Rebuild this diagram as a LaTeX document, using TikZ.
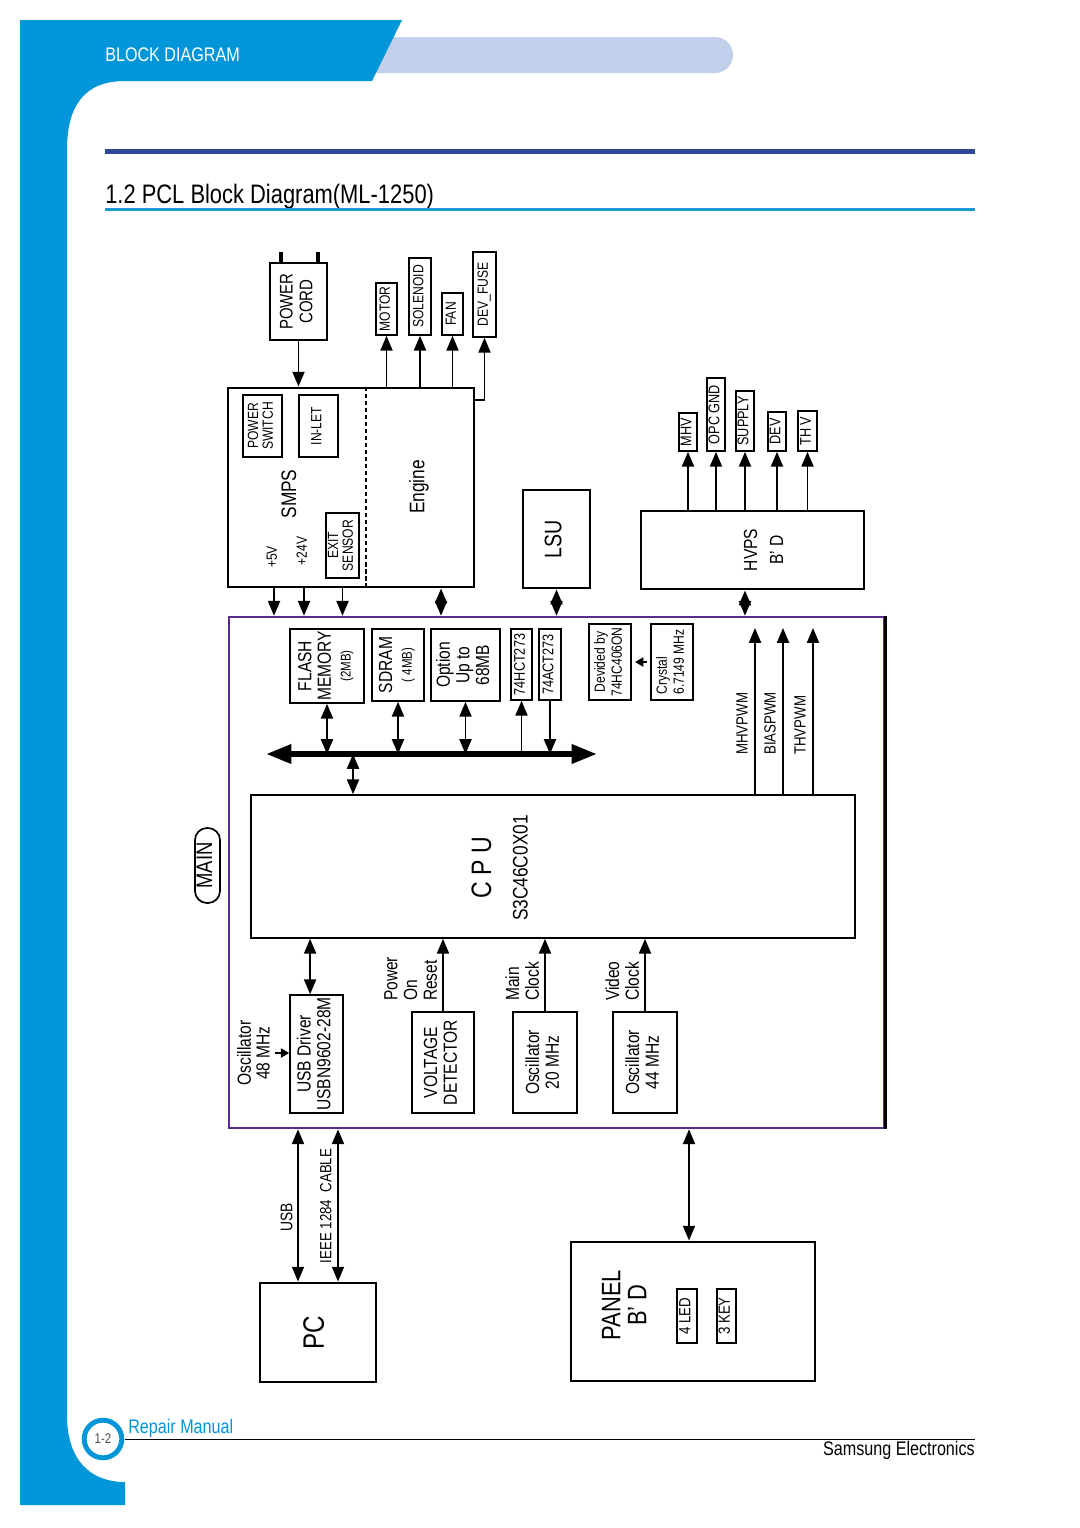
\documentclass[tikz,border=0pt]{standalone}
\usepackage{fontspec}
\setmainfont{Liberation Sans}[FakeStretch=0.82]
\usepackage{graphicx}
\usetikzlibrary{arrows.meta}

\definecolor{hdrblue}{RGB}{0,150,217}
\definecolor{barblue}{RGB}{195,208,235}
\definecolor{ruleblue}{RGB}{46,70,150}
\definecolor{lineblue}{RGB}{28,154,214}
\definecolor{mainpurple}{RGB}{88,44,140}

\newcommand\fsz[2]{\fontsize{#1}{#2}\selectfont}
\newcommand\vlabel[2][c]{\rotatebox{90}{\begin{tabular}{@{}#1@{}}#2\end{tabular}}}

\tikzset{
  blk/.style 2 args={minimum width=#1*0.025cm, minimum height=#2*0.025cm},
  thickbox/.style={draw, line width=2.1pt, inner sep=0pt},
  sbox/.style={draw, line width=1.1pt, inner sep=0pt},
  txt/.style={inner sep=0pt},
  arr/.style={-{Triangle[length=10.5pt,width=8.5pt]}, line width=1.4pt},
  darr/.style={{Triangle[length=10.5pt,width=8.5pt]}-{Triangle[length=10.5pt,width=8.5pt]}, line width=1.4pt},
  sarr/.style={-{Triangle[length=6pt,width=6.5pt]}, line width=1.4pt},
  bus/.style={{Triangle[length=18pt,width=13pt]}-{Triangle[length=18pt,width=13pt]}, line width=4pt}
}

\begin{document}
\begin{tikzpicture}[x=0.025cm, y=-0.025cm]
        \useasboundingbox (0,0) rectangle (1080,1528);
        \fill[white] (0,0) rectangle (1080,1528);

        % Page frame
        \fill[barblue, rounded corners=0.45cm] (360,37) rectangle (733,73);
        \fill[hdrblue] (20,20) -- (402,20) -- (372,81) -- (125,81)
            .. controls (85,81) and (67,105) .. (67,150) -- (67,1415)
            .. controls (67,1460) and (90,1482) .. (125,1482) -- (125,1505) -- (20,1505) -- cycle;
        \node[txt, anchor=west, text=white, font={\fsz{14}{16}}] (hdr) at (105,55) {BLOCK DIAGRAM};
        \fill[ruleblue] (105,149) rectangle (975,154);
        \node[txt, anchor=base west, font={\fsz{19}{22}}] (title) at (105,203) {1.2 PCL Block Diagram(ML-1250)};
        \fill[lineblue] (105,208) rectangle (975,211);

        % Footer
        \draw[line width=0.7pt] (125,1439) -- (975,1439);
        \draw[hdrblue, line width=3.5pt, fill=white] (103,1439) circle [radius=0.47cm];
        \node[txt, text=black!70, font={\fsz{10}{12}}] (pageno) at (103,1439) {1-2};
        \node[txt, anchor=base west, text=hdrblue, font={\fsz{14}{16}}] (repair) at (128,1433) {Repair Manual};
        \node[txt, anchor=base east, font={\fsz{14}{16}}] (samsung) at (975,1455) {Samsung Electronics};

        % Power cord and SMPS / Engine
        \node[thickbox, blk={57}{77}, font={\fsz{13}{14}}] (cord) at (298.5,301.5) {\vlabel{POWER\\CORD}};
        \draw[line width=3pt] ([xshift=-0.44cm]cord.north) -- ++(0,-10);
        \draw[line width=3pt] ([xshift=0.49cm]cord.north) -- ++(0,-10);
        \node[thickbox, blk={246}{199}] (smps) at (351,487.5) {};
        \draw[dashed, dash pattern=on 3pt off 2pt, line width=1pt] (smps.north -| 366,0) -- (smps.south -| 366,0);
        \node[sbox, blk={39}{62}, font={\fsz{10.5}{10.5}}] (pswitch) at (262.5,426) {\vlabel{POWER\\SWITCH}};
        \node[sbox, blk={39}{62}, font={\fsz{10.5}{10.5}}] (inlet) at (318.5,426) {\vlabel{IN-LET}};
        \node[sbox, blk={33}{65}, font={\fsz{10.5}{10.5}}] (exits) at (342.5,545.5) {\vlabel{EXIT\\SENSOR}};
        \node[txt, font={\fsz{15}{15}}] (smpstxt) at (292,494) {\vlabel{SMPS}};
        \node[txt, font={\fsz{10.5}{10.5}}] (v5) at (274,557) {\vlabel{+5V}};
        \node[txt, font={\fsz{10.5}{10.5}}] (v24) at (304,551) {\vlabel{+24V}};
        \node[txt, font={\fsz{15}{15}}] (engtxt) at (420,487) {\vlabel{Engine}};
        \draw[arr] (cord.south) -- (cord.south |- smps.north);

        % Engine outputs
        \node[sbox, blk={21}{52}, font={\fsz{10.5}{12}}] (motor) at (386.5,309) {\vlabel{MOTOR}};
        \node[sbox, blk={22}{77}, font={\fsz{10.5}{12}}] (solenoid) at (420,296.5) {\vlabel{SOLENOID}};
        \node[sbox, blk={21}{42}, font={\fsz{10.5}{12}}] (fan) at (452.5,314) {\vlabel{FAN}};
        \node[sbox, blk={23}{85}, font={\fsz{10.5}{12}}] (fuse) at (484.5,294.5) {\vlabel{DEV\_FUSE}};
        \draw[arr] (motor.south |- smps.north) -- (motor.south);
        \draw[arr] (solenoid.south |- smps.north) -- (solenoid.south);
        \draw[arr] (fan.south |- smps.north) -- (fan.south);
        \draw[arr] ([yshift=-0.33cm]smps.north east) -| (fuse.south);

        % LSU and HVPS
        \node[thickbox, blk={67}{98}, font={\fsz{17}{17}}] (lsu) at (556.5,539) {\vlabel{LSU}};
        \node[thickbox, blk={223}{78}] (hvps) at (752.5,550) {};
        \node[txt, font={\fsz{13.5}{18.5}}] (hvpstxt) at (765,550) {\vlabel{HVPS\\B' D}};
        \node[sbox, blk={18}{38}, font={\fsz{11}{12}}] (mhv) at (688,432) {\vlabel{MHV}};
        \node[sbox, blk={18}{73}, font={\fsz{11}{12}}] (opcgnd) at (716,414.5) {\vlabel{OPC GND}};
        \node[sbox, blk={18}{60}, font={\fsz{11}{12}}] (supply) at (745,421) {\vlabel{SUPPLY}};
        \node[sbox, blk={18}{39}, font={\fsz{11}{12}}] (dev) at (777,431.5) {\vlabel{DEV}};
        \node[sbox, blk={19}{40}, font={\fsz{11}{12}}] (thv) at (807.5,431) {\vlabel{TH V}};
        \foreach \b in {mhv,opcgnd,supply,dev,thv}
            \draw[arr] (\b.south |- hvps.north) -- (\b.south);

        % Main board
        \node[draw=mainpurple, line width=1.8pt, blk={655}{511}] (main) at (556.5,872.5) {};
        \draw[line width=1.8pt] (main.north east) -- (main.south east);
        \node[draw, rounded corners=0.3cm, line width=1.2pt, inner sep=0pt, blk={25}{75}, font={\fsz{16}{16}}] (mainlbl) at (207.5,865.5) {\vlabel{MAIN}};

        % Links into the main board
        \draw[arr] (v5 |- smps.south) -- (v5 |- main.north);
        \draw[arr] (v24 |- smps.south) -- (v24 |- main.north);
        \draw[arr] (exits |- smps.south) -- (exits |- main.north);
        \coordinate (engio) at ([xshift=2.25cm]smps.south);
        \draw[darr] (engio) -- (engio |- main.north);
        \draw[darr] (lsu.south) -- (lsu.south |- main.north);
        \draw[darr] (supply |- hvps.south) -- (supply |- main.north);

        % Memory and latches on the bus
        \node[sbox, blk={74}{74}, font={\fsz{13.5}{14}}] (flash) at (327,666) {\vlabel{FLASH\\MEMORY\\{\fsz{10}{10}(2MB)}}};
        \node[sbox, blk={52}{72}, font={\fsz{13.5}{14}}] (sdram) at (398,665) {\vlabel{SDRAM\\{\fsz{10}{10}( 4MB)}}};
        \node[sbox, blk={69}{72}, font={\fsz{13.5}{14}}] (option) at (465.5,665) {\vlabel{Option\\Up to\\68MB}};
        \node[sbox, blk={21}{71}, font={\fsz{11}{12}}] (hct) at (521.5,664.5) {\vlabel{74HCT273}};
        \node[sbox, blk={22}{71}, font={\fsz{11}{12}}] (act) at (550,664.5) {\vlabel{74ACT273}};
        \node[sbox, blk={42}{76}, font={\fsz{10.5}{12}}] (divd) at (610,662) {\vlabel{Devided by\\74HC406ON}};
        \node[sbox, blk={42}{76}, font={\fsz{10.5}{12}}] (crystal) at (672,662) {\vlabel[l]{Crystal\\6.7149 MHz}};
        \draw[sarr, shorten <=0.08cm, shorten >=0.08cm] (crystal) -- (divd);

        \coordinate (busL) at (266,754);
        \coordinate (busR) at (597,754);
        \coordinate (busC) at (353,754);
        \draw[bus] (busL) -- (busR);
        \draw[darr] (flash.south) -- (flash.south |- busL);
        \draw[darr] (sdram.south) -- (sdram.south |- busL);
        \draw[darr] (option.south) -- (option.south |- busL);
        \draw[arr] (hct.south |- busL) -- (hct.south);
        \draw[arr] (act.south) -- (act.south |- busL);

        % CPU
        \node[sbox, blk={604}{143}] (cpu) at (553,866.5) {};
        \draw[darr] (busC) -- (busC |- cpu.north);
        \node[txt, font={\fsz{20}{26}}] (cputxt) at (502,868) {\vlabel{C P U\\{\fsz{15}{15}S3C46C0X01}}};
        \foreach \x/\s in {755/MHVPWM,783/BIASPWM,813/THVPWM}{
            \coordinate (pwm\x) at (\x,628);
            \draw[arr] (pwm\x |- cpu.north) -- (pwm\x);
            \node[txt, anchor=south east, font={\fsz{11.5}{12}}] (lbl\x) at (\x-2,755) {\vlabel{\s}};
        }

        % Blocks under the CPU
        \node[sbox, blk={53}{118}, font={\fsz{13.5}{14}}] (usbdrv) at (316.5,1054) {\vlabel{USB Driver\\USBN9602-28M}};
        \node[sbox, blk={62}{101}, font={\fsz{13.5}{14}}] (voltdet) at (443,1062.5) {\vlabel{VOLTAGE\\DETECTOR}};
        \node[sbox, blk={64}{101}, font={\fsz{13.5}{14}}] (osc20) at (545,1062.5) {\vlabel{Oscillator\\20 MHz}};
        \node[sbox, blk={64}{101}, font={\fsz{13.5}{14}}] (osc44) at (645,1062.5) {\vlabel{Oscillator\\44 MHz}};
        \node[txt, font={\fsz{13.5}{13}}] (osc48) at (256,1053) {\vlabel{Oscillator\\48 MHz}};
        \coordinate (usbio) at ([xshift=-0.16cm]usbdrv.north);
        \draw[darr] (usbio |- cpu.south) -- (usbio);
        \draw[sarr] (osc48.east) -- (osc48.east -| usbdrv.west);
        \draw[arr] (voltdet.north) -- (voltdet.north |- cpu.south);
        \draw[arr] (osc20.north) -- (osc20.north |- cpu.south);
        \draw[arr] (osc44.north) -- (osc44.north |- cpu.south);
        \node[txt, anchor=south east, font={\fsz{13.5}{14}}] (lblpor) at ([yshift=0.25cm]voltdet.north) {\vlabel[l]{Power\\On\\Reset}};
        \node[txt, anchor=south east, font={\fsz{13.5}{14}}] (lblmclk) at ([yshift=0.25cm]osc20.north) {\vlabel[l]{Main\\Clock}};
        \node[txt, anchor=south east, font={\fsz{13.5}{14}}] (lblvclk) at ([yshift=0.25cm]osc44.north) {\vlabel[l]{Video\\Clock}};

        % PC and panel
        \node[thickbox, blk={116}{99}, font={\fsz{21}{21}}] (pc) at (318,1332.5) {\vlabel{PC}};
        \coordinate (usbport) at ([xshift=-0.5cm]pc.north);
        \coordinate (ieeeport) at ([xshift=0.5cm]pc.north);
        \draw[darr] (usbport |- main.south) -- (usbport);
        \draw[darr] (ieeeport |- main.south) -- (ieeeport);
        \node[txt, font={\fsz{12}{12}}] (lblusb) at (289,1217) {\vlabel{USB}};
        \node[txt, font={\fsz{11.5}{12}}] (lblieee) at (328,1206) {\vlabel{IEEE 1284~~CABLE}};

        \node[thickbox, blk={244}{139}] (panel) at (693,1311.5) {};
        \node[txt, font={\fsz{19}{18}}] (paneltxt) at (628,1305) {\vlabel{PANEL\\B' D}};
        \node[sbox, blk={20}{54}, font={\fsz{11.5}{12}}] (led) at (687,1316) {\vlabel{4 LED}};
        \node[sbox, blk={19}{54}, font={\fsz{11.5}{12}}] (key) at (726.5,1316) {\vlabel{3 KEY}};
        \coordinate (panelio) at ([xshift=-0.1cm]panel.north);
        \draw[darr] (panelio |- main.south) -- (panelio);
\end{tikzpicture}
\end{document}
